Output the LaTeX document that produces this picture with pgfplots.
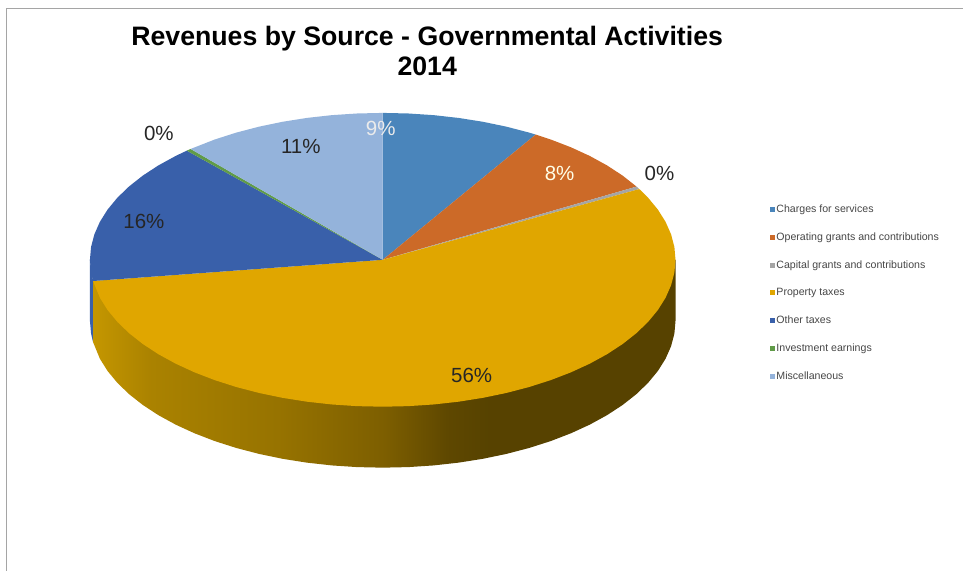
\documentclass[border=0pt]{standalone}
\usepackage{pgfplots}
\pgfplotsset{compat=1.18}
\usepackage{fontspec}
\setmainfont{Liberation Sans}

\definecolor{charges}{RGB}{74,133,187}
\definecolor{operating}{RGB}{204,106,40}
\definecolor{capital}{RGB}{165,165,165}
\definecolor{property}{RGB}{224,166,0}
\definecolor{othertax}{RGB}{57,96,170}
\definecolor{investment}{RGB}{96,155,72}
\definecolor{misc}{RGB}{148,179,219}
\definecolor{legendtext}{RGB}{70,70,70}
\definecolor{framegray}{RGB}{165,165,165}

% Side wall of the large slice: gold on the left, falling to dark brown on the right.
% The path's bounding box occupies the central 25bp..75bp of the shading.
\pgfdeclarehorizontalshading{wallgold}{100bp}{
  rgb(0bp)=(.77,.59,0);
  rgb(25bp)=(.77,.59,0);
  rgb(30bp)=(.667,.51,0);
  rgb(41bp)=(.59,.45,0);
  rgb(50bp)=(.49,.37,0);
  rgb(55.5bp)=(.37,.28,0);
  rgb(59bp)=(.34,.26,0);
  rgb(100bp)=(.34,.26,0)}

% Ellipse of the top face: angle a clockwise from twelve o'clock, r from 0 (hub) to 1 (rim)
\pgfplotsset{
  table/pie top/.style={
    x expr=383+293*\thisrow{r}*sin(\thisrow{a}),
    y expr=260-147*\thisrow{r}*cos(\thisrow{a})},
  table/pie wall/.style={
    x expr=383+293*sin(\thisrow{a}),
    y expr=260-147*cos(\thisrow{a})+61*\thisrow{d}},
}

\begin{document}
\begin{tikzpicture}
\path (0,0) rectangle (964pt,571pt);
\begin{axis}[
  at={(0,0)}, anchor=south west,
  scale only axis, width=964pt, height=571pt,
  xmin=0, xmax=964, ymin=0, ymax=571, y dir=reverse,
  hide axis,
  clip=false,
  legend style={at={(axis cs:771,204)}, anchor=north west, draw=none, fill=none,
    font=\fontsize{10.6}{12}\selectfont\color{legendtext}, row sep=16.7pt,
    inner sep=0pt, outer sep=0pt,
    nodes={inner sep=1pt}},
  legend cell align=left,
  legend image code/.code={\fill[#1] (0pt,-2.5pt) rectangle (5pt,2.5pt);},
]
% outer frame
\addplot[forget plot, framegray, line width=1.4pt] coordinates {(6.5,571) (6.5,8.5) (964,8.5)};

% side walls
\addplot[forget plot, fill=othertax, draw=none] table[pie wall] {
a d
261.7 0
270 0
270 1
265 1
261.7 1
};
\addplot[forget plot, shade, shading=wallgold, draw=none] table[pie wall] {
a d
90 0
261.7 0
261.7 1
255 1
250 1
245 1
240 1
235 1
230 1
225 1
220 1
215 1
210 1
205 1
200 1
195 1
190 1
185 1
180 1
175 1
170 1
165 1
160 1
155 1
150 1
145 1
140 1
135 1
130 1
125 1
120 1
115 1
110 1
105 1
100 1
95 1
90 1
};

% top face, one wedge per source
\addplot[fill=charges, draw=none] table[pie top] {
a r
0 0
0 1
5 1
10 1
15 1
20 1
25 1
30 1
31.5 1
};
\addlegendentry{Charges for services}
\addplot[fill=operating, draw=none] table[pie top] {
a r
0 0
31.5 1
35 1
40 1
45 1
50 1
55 1
60.1 1
};
\addlegendentry{Operating grants and contributions}
\addplot[fill=capital, draw=none] table[pie top] {
a r
0 0
60.1 1
61.2 1
};
\addlegendentry{Capital grants and contributions}
\addplot[fill=property, draw=none] table[pie top] {
a r
0 0
61.2 1
65 1
70 1
75 1
80 1
85 1
90 1
95 1
100 1
105 1
110 1
115 1
120 1
125 1
130 1
135 1
140 1
145 1
150 1
155 1
160 1
165 1
170 1
175 1
180 1
185 1
190 1
195 1
200 1
205 1
210 1
215 1
220 1
225 1
230 1
235 1
240 1
245 1
250 1
255 1
261.7 1
};
\addlegendentry{Property taxes}
\addplot[fill=othertax, draw=none] table[pie top] {
a r
0 0
261.7 1
265 1
270 1
275 1
280 1
285 1
290 1
295 1
300 1
305 1
310 1
315 1
318 1
};
\addlegendentry{Other taxes}
\addplot[fill=investment, draw=none] table[pie top] {
a r
0 0
318 1
319 1
};
\addlegendentry{Investment earnings}
\addplot[fill=misc, draw=none] table[pie top] {
a r
0 0
319 1
325 1
330 1
335 1
340 1
345 1
350 1
355 1
360 1
};
\addlegendentry{Miscellaneous}

% title
\node[font=\fontsize{26.7}{30}\selectfont\bfseries, align=center, text=black] at (axis cs:427.5,51)
  {Revenues by Source - Governmental Activities\\2014};

% percentage labels
\begin{scope}[font=\fontsize{20.5}{24}\selectfont]
\node[text=white!92!black] at (axis cs:381,129) {9\%};
\node[text=white!90!yellow] at (axis cs:560,174) {8\%};
\node[text=black!85] at (axis cs:660,174) {0\%};
\node[text=black!85] at (axis cs:472,376) {56\%};
\node[text=black!85] at (axis cs:144,222) {16\%};
\node[text=black!85] at (axis cs:159,134) {0\%};
\node[text=black!85] at (axis cs:301,147) {11\%};
\end{scope}
\end{axis}
\end{tikzpicture}
\end{document}
